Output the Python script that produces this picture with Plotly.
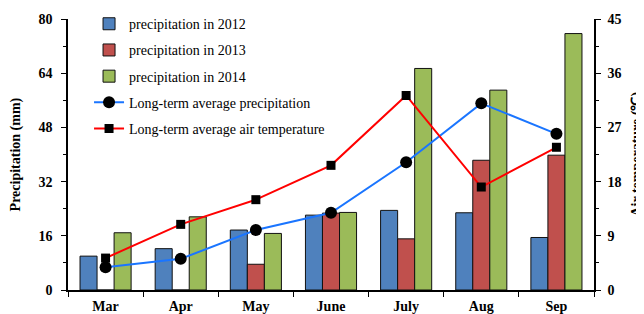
import plotly.graph_objects as go

months = ["Mar", "Apr", "May", "June", "July", "Aug", "Sep"]
precip_2012 = [10.0, 12.2, 17.7, 22.1, 23.5, 22.8, 15.5]
precip_2013 = [0, 0, 7.6, 22.7, 15.1, 38.3, 39.8]
precip_2014 = [16.9, 21.6, 16.7, 22.9, 65.4, 59.0, 75.7]
longterm_precip = [6.7, 9.2, 17.7, 22.8, 37.7, 55.1, 46.1]
longterm_temp = [5.3, 10.9, 15.0, 20.7, 32.3, 17.1, 23.7]

font_family = "Liberation Serif"

fig = go.Figure()
bar_specs = [
    ("precipitation in 2012", precip_2012, "#4F81BD"),
    ("precipitation in 2013", precip_2013, "#C0504D"),
    ("precipitation in 2014", precip_2014, "#9BBB59"),
]
for i, (name, vals, col) in enumerate(bar_specs):
    fig.add_trace(go.Bar(
        x=months, y=vals, name=name, marker=dict(color=col, line=dict(color="#111111", width=1)),
        legendgroup=f"g{i}",
    ))

fig.add_trace(go.Scatter(
    x=months, y=longterm_precip, name="Long-term average precipitation", mode="lines+markers",
    line=dict(color="#1A75FF", width=2), marker=dict(symbol="circle", size=12, color="black"),
    legendgroup="g3",
))
fig.add_trace(go.Scatter(
    x=months, y=longterm_temp, name="Long-term average air temperature", mode="lines+markers",
    line=dict(color="#FF0000", width=2), marker=dict(symbol="square", size=9, color="black"),
    yaxis="y2", legendgroup="g4",
))

tickfont = dict(family=font_family, size=14, color="black", weight="bold")
titlefont = dict(family=font_family, size=14, color="black", weight="bold")
fig.update_layout(
    width=636, height=306,
    margin=dict(l=60, r=50, t=11, b=24, autoexpand=False),
    plot_bgcolor="white", paper_bgcolor="white",
    barmode="group", bargap=0.32, bargroupgap=0,
    font=dict(family=font_family, size=14, color="black"),
    showlegend=True,
    legend=dict(x=0.040, y=1.04, xanchor="left", yanchor="top", bgcolor="rgba(0,0,0,0)",
                font=dict(family=font_family, size=14, color="black"),
                tracegroupgap=5, itemwidth=30),
    xaxis=dict(showline=True, linecolor="black", linewidth=1.5, ticks="outside", tickson="boundaries",
               ticklen=5, tickcolor="black", tickfont=tickfont, showgrid=False, automargin=False,
               ticklabelstandoff=2),
    yaxis=dict(range=[0, 80], dtick=16, showline=True, linecolor="black", linewidth=1.5,
               ticks="outside", ticklen=5, tickcolor="black", tickfont=tickfont, showgrid=False,
               zeroline=False, automargin=False, ticklabelstandoff=6,
               minor=dict(dtick=8, ticks="outside", ticklen=3, tickcolor="black")),
    yaxis2=dict(range=[0, 45], dtick=9, overlaying="y", side="right", showline=True, linecolor="black",
                linewidth=1.5, ticks="outside", ticklen=5, tickcolor="black", tickfont=tickfont,
                showgrid=False, zeroline=False, automargin=False, ticklabelstandoff=4,
                minor=dict(dtick=4.5, ticks="outside", ticklen=3, tickcolor="black")),
    annotations=[
        dict(text="Precipitation (mm)", xref="paper", yref="paper", x=-0.099, y=0.5,
             xanchor="center", yanchor="middle", textangle=-90, showarrow=False, font=titlefont),
        dict(text="Air temperature (℃)", xref="paper", yref="paper", x=1.08, y=0.5,
             xanchor="center", yanchor="middle", textangle=-90, showarrow=False, font=titlefont),
    ],
)

fig.write_html("out.html")
